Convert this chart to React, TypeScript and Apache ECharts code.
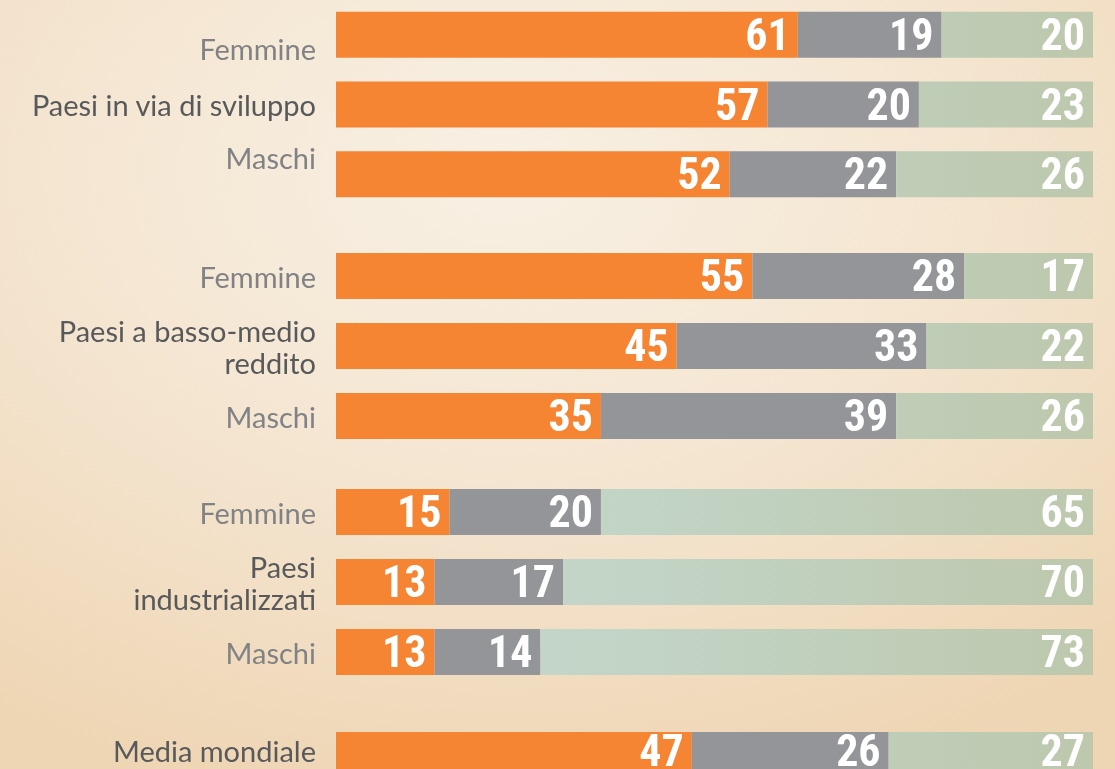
import React, { useEffect, useRef } from "react";
import * as echarts from "echarts";

// Categories, top to bottom
const categories = [
  "Femmine",
  "Paesi in via di sviluppo",
  "Maschi",
  "Femmine",
  "Paesi a basso-medio\nreddito",
  "Maschi",
  "Femmine",
  "Paesi\nindustrializzati",
  "Maschi",
  "Media mondiale",
];
// group index of each category
const groupOf = [0, 0, 0, 1, 1, 1, 2, 2, 2, 3];
// whether the label is a sub-label (grey) or a group label (dark)
const isSubLabel = [true, false, true, true, false, true, true, false, true, false];

// Series values (percent)
const serieArancione = [61, 57, 52, 55, 45, 35, 15, 13, 13, 47];
const serieGrigia = [19, 20, 22, 28, 33, 39, 20, 17, 14, 26];
const serieVerde = [20, 23, 26, 17, 22, 26, 65, 70, 73, 27];

const GRID_TOPS = [-1, 241, 477, 732];
const GRID_BOTTOMS = [560, 318, 82, 0];
const LEFT = 336;
const RIGHT = 22;

const GREY_TXT = "#808285";
const DARK_TXT = "#58595B";
const LABEL_FONT = "Lato, 'Open Sans', sans-serif";
const LABEL_SIZE = 29;

// label vertical shift style (rich style name) for the first group's sub-labels
const labelShift: Record<number, string> = { 0: "dn", 2: "up" };

export default function App() {
  const ref = useRef<HTMLDivElement>(null);

  useEffect(() => {
    if (!ref.current) return;
    const chart = echarts.init(ref.current, null, { renderer: "svg" });

    const nGroups = GRID_TOPS.length;
    const grids: any[] = [];
    const xAxes: any[] = [];
    const yAxes: any[] = [];
    const series: any[] = [];

    const valueLabel = {
      show: true,
      position: "insideRight",
      distance: 8,
      color: "#ffffff",
      fontFamily: "'Liberation Sans Narrow', 'Roboto Condensed', Lato, sans-serif",
      fontWeight: "bold",
      fontSize: 44,
    };

    const green = {
      type: "linear",
      x: LEFT,
      y: 0,
      x2: 1115 - RIGHT,
      y2: 0,
      global: true,
      colorStops: [
        { offset: 0, color: "#C4D8CC" },
        { offset: 0.4, color: "#C2D4C6" },
        { offset: 1, color: "#BDC8AD" },
      ],
    };

    const richBase = {
      color: GREY_TXT,
      fontSize: LABEL_SIZE,
      fontFamily: LABEL_FONT,
    };

    for (let g = 0; g < nGroups; g++) {
      const idx = categories.map((_, i) => i).filter((i) => groupOf[i] === g);
      grids.push({
        left: LEFT,
        right: RIGHT,
        top: GRID_TOPS[g],
        bottom: GRID_BOTTOMS[g],
        containLabel: false,
      });
      xAxes.push({
        type: "value",
        gridIndex: g,
        min: 0,
        max: 100,
        show: false,
      });
      yAxes.push({
        type: "category",
        gridIndex: g,
        inverse: true,
        data: idx.map((i) => ({
          value: categories[i],
          textStyle: {
            color: isSubLabel[i] ? GREY_TXT : DARK_TXT,
          },
        })),
        axisLine: { show: false },
        axisTick: { show: false },
        splitLine: { show: false },
        axisLabel: {
          margin: 20,
          fontSize: LABEL_SIZE,
          lineHeight: 32,
          fontFamily: LABEL_FONT,
          align: "right",
          formatter: (value: string, index: number) => {
            const gi = idx[index];
            const s = labelShift[gi];
            return s ? `{${s}|${value}}` : value;
          },
          rich: {
            dn: { ...richBase, padding: [28, 0, 0, 0] },
            up: { ...richBase, padding: [0, 0, 34, 0] },
          },
        },
      });
      const common = {
        type: "bar",
        xAxisIndex: g,
        yAxisIndex: g,
        stack: "s" + g,
        barWidth: 46,
        label: valueLabel,
      };
      series.push({
        ...common,
        name: "Arancione " + g,
        data: idx.map((i) => serieArancione[i]),
        itemStyle: { color: "#F58433" },
      });
      series.push({
        ...common,
        name: "Grigia " + g,
        data: idx.map((i) => serieGrigia[i]),
        itemStyle: { color: "#939598" },
      });
      series.push({
        ...common,
        name: "Verde " + g,
        data: idx.map((i) => serieVerde[i]),
        itemStyle: { color: green },
      });
    }

    chart.setOption({
      animation: false,
      backgroundColor: {
        type: "radial",
        x: 0.45,
        y: 0.22,
        r: 0.85,
        colorStops: [
          { offset: 0, color: "#F8F0E4" },
          { offset: 0.5, color: "#F4E5D0" },
          { offset: 1, color: "#EED5B3" },
        ],
      },
      grid: grids,
      xAxis: xAxes,
      yAxis: yAxes,
      series,
    });

    return () => chart.dispose();
  }, []);

  return (
    <div
      ref={ref}
      style={{ position: "fixed", left: 0, top: 0, width: 1115, height: 769 }}
    />
  );
}
